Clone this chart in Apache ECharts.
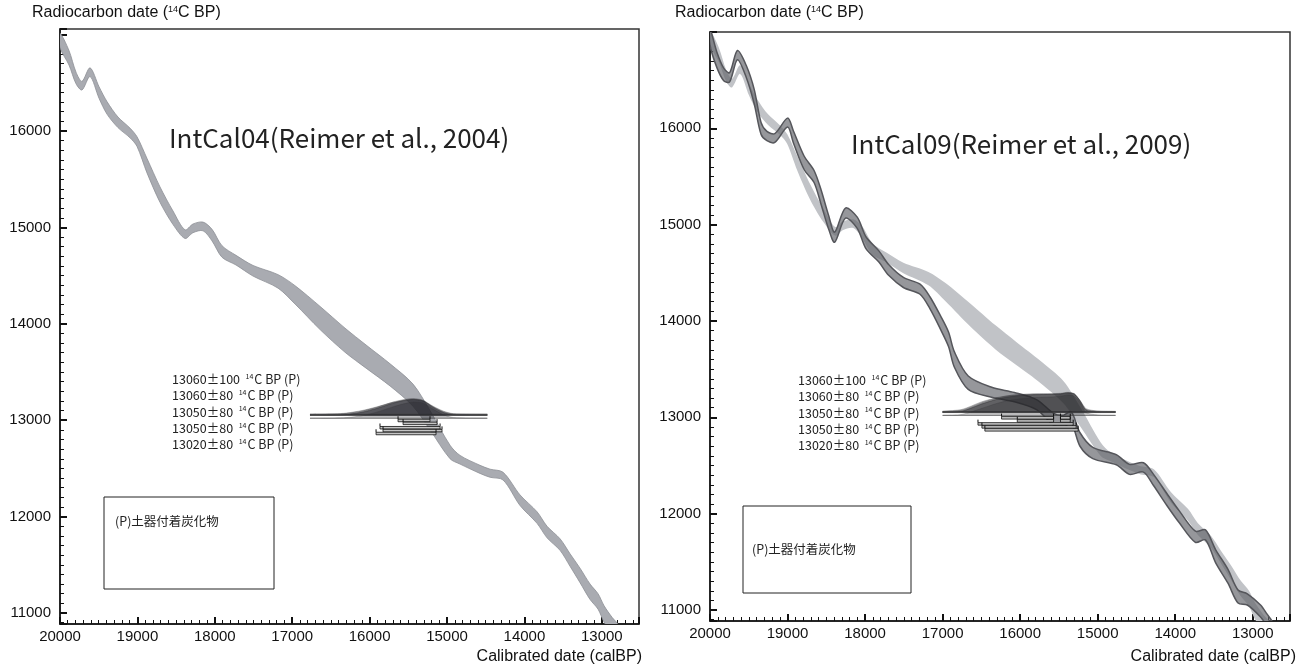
<!DOCTYPE html>
<html>
<head>
<meta charset="utf-8">
<script src="https://cdn.jsdelivr.net/npm/echarts@6.0.0/dist/echarts.min.js"></script>
<style>
html, body { margin: 0; padding: 0; background: #fff; }
#main { width: 1303px; height: 668px; }
</style>
</head>
<body>
<div id="main"></div>
<script>
// IntCal04 band: cal BP, 14C BP (centre), half width of the band
const intcal04Cal = [20000, 19884, 19793, 19716, 19612, 19496, 19393, 19251, 19096, 19005, 18876, 18708, 18540, 18385, 18282, 18152, 18036, 17907, 17726, 17506, 17183, 16963, 16640, 16318, 16046, 15736, 15440, 15220, 14961, 14832, 14574, 14444, 14276, 14057, 13837, 13708, 13540, 13411, 13282, 13152, 13049, 12971, 12868, 12780];
const intcal04Bp = [16940, 16760, 16550, 16470, 16610, 16400, 16240, 16090, 15980, 15890, 15640, 15340, 15100, 14930, 14990, 15010, 14920, 14750, 14660, 14550, 14440, 14300, 14060, 13830, 13660, 13470, 13260, 13000, 12670, 12590, 12490, 12450, 12420, 12170, 11990, 11840, 11710, 11550, 11390, 11220, 11120, 10990, 10870, 10780];
const intcal04Err = [75, 75, 60, 45, 45, 60, 65, 55, 50, 50, 75, 80, 70, 45, 45, 45, 60, 60, 50, 55, 70, 95, 120, 125, 120, 115, 115, 100, 70, 45, 42, 42, 40, 55, 60, 60, 60, 65, 75, 80, 80, 85, 85, 85];

// IntCal09 band
const intcal09Cal = [20000, 19911, 19823, 19747, 19646, 19532, 19430, 19342, 19266, 19164, 18999, 18924, 18785, 18658, 18569, 18468, 18392, 18253, 18101, 17987, 17822, 17696, 17506, 17291, 17164, 17025, 16924, 16848, 16670, 16367, 16075, 15784, 15569, 15442, 15341, 15228, 15063, 14760, 14590, 14410, 14280, 14110, 13950, 13740, 13610, 13480, 13320, 13190, 13070, 12900, 12820, 12740];
const intcal09Bp = [16950, 16710, 16560, 16530, 16760, 16590, 16330, 16000, 15920, 15900, 16060, 15910, 15640, 15500, 15290, 15020, 14870, 15120, 15020, 14810, 14670, 14530, 14400, 14330, 14190, 13980, 13810, 13600, 13360, 13260, 13210, 13130, 12980, 12960, 13000, 12770, 12630, 12560, 12460, 12480, 12350, 12150, 11970, 11760, 11780, 11560, 11350, 11140, 11110, 10990, 10900, 10800];
const intcal09Err = [85, 80, 65, 48, 48, 62, 75, 62, 48, 46, 46, 62, 70, 62, 75, 70, 52, 52, 58, 62, 58, 56, 52, 52, 62, 70, 75, 80, 70, 52, 48, 52, 62, 62, 58, 70, 58, 52, 52, 48, 58, 62, 62, 58, 52, 68, 72, 68, 58, 62, 62, 62];

// samples
const sampleLabels = ['13060±100', '13060±80', '13050±80', '13050±80', '13020±80'];
const sampleBp = [13060, 13060, 13050, 13050, 13020];

// calibrated probability (height in 14C years) - IntCal04 panel
const distCal04 = [16770, 16450, 16300, 16100, 15900, 15700, 15550, 15430, 15310, 15180, 15050, 14920, 14480];
const dist04 = [
  [2, 6, 14, 40, 80, 125, 148, 155, 140, 85, 35, 8, 2],
  [1, 4, 10, 34, 76, 128, 155, 164, 148, 80, 28, 5, 1],
  [1, 3, 9, 32, 74, 127, 156, 166, 150, 82, 30, 5, 1],
  [1, 3, 9, 33, 75, 126, 154, 165, 151, 84, 31, 6, 1],
  [1, 3, 7, 26, 66, 118, 152, 168, 158, 95, 38, 8, 1]
];
// IntCal09 panel
const distCal09 = [17000, 16750, 16500, 16300, 16150, 16000, 15800, 15600, 15480, 15380, 15300, 15230, 15150, 15000, 14770];
const dist09 = [
  [3, 22, 100, 145, 165, 175, 180, 182, 185, 195, 180, 120, 30, 6, 2],
  [2, 15, 90, 140, 165, 178, 185, 186, 190, 200, 185, 115, 22, 4, 1],
  [2, 14, 88, 138, 163, 177, 186, 188, 192, 203, 190, 120, 24, 4, 1],
  [2, 14, 86, 137, 162, 176, 185, 188, 193, 204, 192, 122, 25, 4, 1],
  [1, 10, 72, 125, 155, 172, 186, 192, 200, 212, 200, 135, 30, 5, 1]
];

// ranges under the distributions: [from, to, 14C BP level]
const ranges04 = [[15633, 15220, 13010], [15568, 15129, 12980], [15866, 15090, 12935], [15827, 15065, 12905], [15917, 15142, 12875]];
const ranges09 = [[16240, 15569, 13008], [15480, 15354, 13008], [16037, 15569, 12976], [15480, 15354, 12976], [16544, 15316, 12945], [16493, 15278, 12914], [16455, 15252, 12883]];

const chart = echarts.init(document.getElementById('main'));
const LABEL_FONT = 'Liberation Sans, Arial, sans-serif';
const JP_FONT = '"Noto Sans CJK JP", sans-serif';

function xAxisFor(gi) {
  return {
    type: 'value', gridIndex: gi, inverse: true, min: 12520, max: 20000, splitNumber: 7,
    axisLine: { show: true, onZero: false, lineStyle: { color: '#111', width: 1.5 } },
    axisTick: { show: true, inside: true, length: 7, lineStyle: { color: '#111', width: 2 } },
    minorTick: { show: true, splitNumber: 10, length: 4, lineStyle: { color: '#111', width: 1 } },
    axisLabel: { color: '#111', fontSize: 15, fontFamily: LABEL_FONT, margin: 5,
      formatter: v => (v % 1000 === 0 ? String(v) : '') },
    splitLine: { show: false }
  };
}
function yAxisFor(gi, min, max) {
  return {
    type: 'value', gridIndex: gi, min: min, max: max, splitNumber: 6,
    axisLine: { show: true, onZero: false, lineStyle: { color: '#111', width: 1.5 } },
    axisTick: { show: true, inside: true, length: 7, lineStyle: { color: '#111', width: 2 } },
    minorTick: { show: true, splitNumber: 10, length: 4, lineStyle: { color: '#111', width: 1 } },
    axisLabel: { color: '#111', fontSize: 15, fontFamily: LABEL_FONT, margin: 9,
      formatter: v => (v % 1000 === 0 && v < 17000 ? String(v) : '') },
    splitLine: { show: false }
  };
}

function clipTo(params) {
  const c = params.coordSys;
  return { type: 'rect', shape: { x: c.x, y: c.y, width: c.width, height: c.height } };
}

// one polygon per band, built on the first data item
function bandSeries(gi, cal, bp, err, style, z) {
  return {
    type: 'custom', xAxisIndex: gi, yAxisIndex: gi, z: z, silent: true,
    data: cal.map((c, i) => [c, bp[i]]),
    renderItem: function (params, api) {
      if (params.dataIndex !== 0) return null;
      const up = cal.map((c, i) => api.coord([c, bp[i] + err[i]]));
      const lo = cal.map((c, i) => api.coord([c, bp[i] - err[i]])).reverse();
      return {
        type: 'group', clipPath: clipTo(params),
        children: [{ type: 'polygon', shape: { points: up.concat(lo), smooth: 0.3 }, style: style }]
      };
    }
  };
}

function distSeries(gi, cal, dists, fill, z) {
  return {
    type: 'custom', xAxisIndex: gi, yAxisIndex: gi, z: z, silent: true,
    data: dists.map((h, k) => [cal[0], sampleBp[k]]),
    renderItem: function (params, api) {
      const k = params.dataIndex;
      const base = sampleBp[k];
      const h = dists[k];
      const top = cal.map((c, i) => api.coord([c, base + h[i]]));
      const b0 = api.coord([cal[cal.length - 1], base]);
      const b1 = api.coord([cal[0], base]);
      return {
        type: 'group', clipPath: clipTo(params),
        children: [
          { type: 'polygon', shape: { points: top.concat([b0, b1]), smooth: 0.25 },
            style: { fill: fill, stroke: 'rgba(55,55,58,0.5)', lineWidth: 0.6 } },
          { type: 'line', shape: { x1: b1[0], y1: b1[1], x2: b0[0], y2: b0[1] },
            style: { stroke: 'rgba(70,70,70,0.6)', lineWidth: 0.8 } }
        ]
      };
    }
  };
}

function rangeSeries(gi, ranges, z) {
  return {
    type: 'custom', xAxisIndex: gi, yAxisIndex: gi, z: z, silent: true,
    data: ranges,
    encode: { x: [0, 1], y: 2 },
    renderItem: function (params, api) {
      const a = api.coord([api.value(0), api.value(2)]);
      const b = api.coord([api.value(1), api.value(2)]);
      return {
        type: 'group',
        children: [
          { type: 'rect', shape: { x: a[0], y: a[1], width: b[0] - a[0], height: 2.5 },
            style: { fill: '#c4c4c4', stroke: '#111', lineWidth: 0.8 } },
          { type: 'line', shape: { x1: a[0], y1: a[1] - 3, x2: a[0], y2: a[1] },
            style: { stroke: '#111', lineWidth: 1 } },
          { type: 'line', shape: { x1: b[0], y1: a[1] - 3, x2: b[0], y2: a[1] },
            style: { stroke: '#111', lineWidth: 1 } }
        ]
      };
    }
  };
}

function sampleText() {
  return sampleLabels.map(s => s + '  {s|14}C BP (P)').join('\n');
}
const supRich = { fontSize: 7, fontFamily: JP_FONT, color: '#222', padding: [0, 1, 6, 0] };
const axisNameStyle = { fontSize: 16, fontWeight: 'normal', color: '#111', fontFamily: LABEL_FONT,
  rich: { s: { fontSize: 9, fontFamily: LABEL_FONT, color: '#111', padding: [0, 0, 7, 0] } } };
const sampleStyle = { fontSize: 12.5, lineHeight: 16.3, fontWeight: 'normal', color: '#222', fontFamily: JP_FONT, rich: { s: supRich } };
const noteStyle = { fontSize: 12.5, fontWeight: 'normal', color: '#222', fontFamily: JP_FONT };

const option = {
  animation: false,
  backgroundColor: '#fff',
  grid: [
    { left: 60, top: 29, width: 579, height: 595, show: true, borderColor: '#333', borderWidth: 1.5 },
    { left: 710, top: 32, width: 580, height: 589, show: true, borderColor: '#333', borderWidth: 1.5 }
  ],
  xAxis: [xAxisFor(0), xAxisFor(1)],
  yAxis: [yAxisFor(0, 10886, 17058), yAxisFor(1, 10886, 17000)],
  title: [
    { left: 27, top: 0, text: 'Radiocarbon date ({s|14}C BP)', textStyle: axisNameStyle },
    { left: 670, top: 0, text: 'Radiocarbon date ({s|14}C BP)', textStyle: axisNameStyle },
    { right: 656, top: 644, text: 'Calibrated date (calBP)', textStyle: axisNameStyle },
    { right: 2, top: 644, text: 'Calibrated date (calBP)', textStyle: axisNameStyle },
    { left: 164, top: 120, text: 'IntCal04(Reimer et al., 2004)',
      textStyle: { fontSize: 26, fontWeight: 'normal', color: '#222', fontFamily: JP_FONT } },
    { left: 846, top: 126, text: 'IntCal09(Reimer et al., 2009)',
      textStyle: { fontSize: 26, fontWeight: 'normal', color: '#222', fontFamily: JP_FONT } },
    { left: 167, top: 366, text: sampleText(), textStyle: sampleStyle },
    { left: 793, top: 367, text: sampleText(), textStyle: sampleStyle },
    { left: 110, top: 510, text: '(P)土器付着炭化物', textStyle: noteStyle },
    { left: 747, top: 538, text: '(P)土器付着炭化物', textStyle: noteStyle }
  ],
  graphic: [
    { type: 'rect', shape: { x: 104, y: 497, width: 170, height: 92 }, style: { fill: 'none', stroke: '#222', lineWidth: 1 } },
    { type: 'rect', shape: { x: 743, y: 506, width: 168, height: 87 }, style: { fill: 'none', stroke: '#222', lineWidth: 1 } }
  ],
  series: [
    bandSeries(0, intcal04Cal, intcal04Bp, intcal04Err, { fill: '#a9abb1', stroke: '#8d8f95', lineWidth: 0.8 }, 2),
    distSeries(0, distCal04, dist04, 'rgba(38,38,42,0.3)', 4),
    rangeSeries(0, ranges04, 5),
    bandSeries(1, intcal04Cal, intcal04Bp, intcal04Err, { fill: '#c1c3c7' }, 2),
    bandSeries(1, intcal09Cal, intcal09Bp, intcal09Err, { fill: 'rgba(100,101,107,0.68)', stroke: '#55565b', lineWidth: 1.5 }, 3),
    distSeries(1, distCal09, dist09, 'rgba(38,38,42,0.28)', 4),
    rangeSeries(1, ranges09, 5)
  ]
};
chart.setOption(option);
</script>
</body>
</html>
